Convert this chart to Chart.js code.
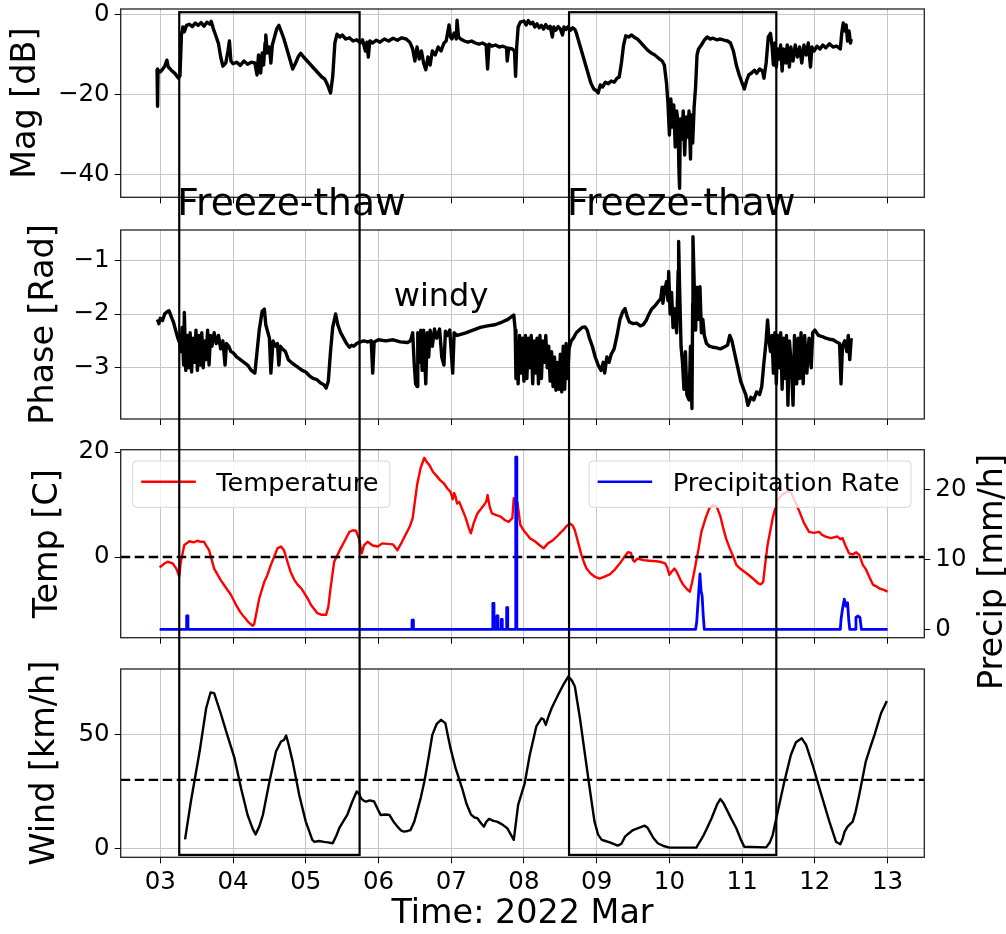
<!DOCTYPE html>
<html>
<head>
<meta charset="utf-8">
<script src="https://cdn.jsdelivr.net/npm/chart.js@4.4.1/dist/chart.umd.min.js"></script>
<style>
  html, body { margin: 0; padding: 0; background: #fff; }
  #wrap { position: relative; width: 1006px; height: 934px; overflow: hidden; }
  #wrap canvas { position: absolute; left: 0; top: 0; }
</style>
</head>
<body>
<div id="wrap">
  <canvas id="magChart" width="1006" height="934"></canvas>
  <canvas id="phaseChart" width="1006" height="934"></canvas>
  <canvas id="tempChart" width="1006" height="934"></canvas>
  <canvas id="windChart" width="1006" height="934"></canvas>
</div>
<script>
// ---- data (time in days of March 2022) ----
const dayTicks = [3, 4, 5, 6, 7, 8, 9, 10, 11, 12, 13];
const dayLabels = ['03', '04', '05', '06', '07', '08', '09', '10', '11', '12', '13'];
const magTicks = [0, -20, -40];
const phaseTicks = [-1, -2, -3];
const tempTicks = [0, 20];
const precipTicks = [0, 10, 20];
const windTicks = [0, 50];

const magDays = [2.955, 2.962, 2.968, 3.00, 3.03, 3.06, 3.09, 3.11, 3.15, 3.20, 3.25, 3.27, 3.29, 3.31, 3.33, 3.36, 3.40, 3.44, 3.48, 3.52, 3.56, 3.60, 3.64, 3.68, 3.70, 3.73, 3.76, 3.80, 3.83, 3.86, 3.90, 3.93, 3.95, 3.97, 4.00, 4.05, 4.10, 4.15, 4.20, 4.25, 4.30, 4.33, 4.35, 4.38, 4.40, 4.42, 4.44, 4.45, 4.47, 4.50, 4.52, 4.54, 4.57, 4.60, 4.63, 4.66, 4.70, 4.74, 4.78, 4.82, 4.86, 4.90, 4.93, 4.97, 5.02, 5.07, 5.12, 5.17, 5.22, 5.26, 5.30, 5.34, 5.37, 5.40, 5.43, 5.47, 5.50, 5.55, 5.60, 5.65, 5.70, 5.75, 5.78, 5.82, 5.84, 5.86, 5.88, 5.92, 5.97, 6.02, 6.08, 6.14, 6.20, 6.26, 6.32, 6.38, 6.43, 6.47, 6.50, 6.53, 6.56, 6.59, 6.62, 6.65, 6.68, 6.71, 6.74, 6.78, 6.82, 6.86, 6.90, 6.93, 6.96, 6.97, 6.99, 7.01, 7.04, 7.07, 7.08, 7.10, 7.13, 7.18, 7.23, 7.28, 7.33, 7.38, 7.43, 7.48, 7.50, 7.52, 7.56, 7.61, 7.66, 7.71, 7.76, 7.77, 7.79, 7.84, 7.87, 7.885, 7.90, 7.92, 7.95, 8.00, 8.03, 8.06, 8.09, 8.12, 8.15, 8.18, 8.21, 8.24, 8.27, 8.30, 8.33, 8.36, 8.39, 8.41, 8.44, 8.47, 8.50, 8.53, 8.55, 8.58, 8.61, 8.64, 8.67, 8.70, 8.72, 8.76, 8.80, 8.84, 8.88, 8.92, 8.96, 9.00, 9.02, 9.05, 9.08, 9.12, 9.16, 9.20, 9.24, 9.28, 9.31, 9.34, 9.37, 9.40, 9.44, 9.48, 9.52, 9.56, 9.60, 9.65, 9.70, 9.75, 9.80, 9.85, 9.90, 9.93, 9.96, 9.98, 10.00, 10.02, 10.04, 10.06, 10.08, 10.10, 10.12, 10.13, 10.14, 10.15, 10.17, 10.19, 10.21, 10.23, 10.25, 10.27, 10.29, 10.30, 10.32, 10.34, 10.36, 10.38, 10.40, 10.44, 10.48, 10.52, 10.56, 10.60, 10.65, 10.70, 10.75, 10.80, 10.84, 10.88, 10.92, 10.96, 11.00, 11.03, 11.06, 11.09, 11.13, 11.17, 11.20, 11.24, 11.28, 11.30, 11.33, 11.36, 11.39, 11.41, 11.43, 11.45, 11.47, 11.49, 11.51, 11.53, 11.55, 11.57, 11.60, 11.62, 11.65, 11.67, 11.70, 11.73, 11.76, 11.79, 11.82, 11.85, 11.88, 11.91, 11.94, 11.96, 11.99, 12.03, 12.07, 12.11, 12.15, 12.20, 12.25, 12.30, 12.35, 12.37, 12.39, 12.41, 12.43, 12.45, 12.47, 12.49, 12.50];
const magValues = [-13.5, -22.8, -13.8, -14.2, -13.6, -12.8, -11.3, -13.0, -13.8, -14.6, -15.8, -15.2, -5.0, -3.0, -4.2, -2.6, -2.3, -2.9, -2.0, -2.6, -1.9, -2.8, -1.8, -2.3, -1.6, -3.5, -5.0, -7.2, -10.5, -12.8, -12.0, -9.0, -6.5, -11.5, -12.2, -11.8, -12.6, -11.5, -12.3, -11.8, -12.0, -15.0, -10.0, -14.5, -9.5, -12.5, -7.0, -5.0, -9.5, -8.0, -12.0, -7.5, -5.5, -3.5, -2.6, -4.0, -6.0, -8.5, -11.0, -13.5, -12.0, -10.3, -9.6, -10.5, -11.5, -12.5, -13.5, -14.5, -15.5, -16.0, -17.5, -19.5, -15.5, -7.0, -4.8, -5.5, -5.0, -6.0, -5.7, -6.5, -6.2, -7.0, -6.2, -9.0, -6.8, -10.5, -6.5, -7.0, -6.3, -6.8, -6.0, -6.5, -5.8, -6.3, -5.7, -6.0, -6.8, -8.5, -11.5, -8.0, -11.0, -9.0, -12.0, -13.7, -10.5, -12.5, -9.0, -10.0, -8.0, -9.0, -7.0, -6.5, -3.5, -2.5, -5.5, -6.0, -4.5, -6.0, -1.3, -5.5, -6.0, -6.5, -6.8, -6.5, -7.0, -7.3, -7.0, -7.5, -13.5, -7.3, -7.8, -7.5, -8.0, -7.8, -8.2, -11.5, -8.3, -8.5, -9.0, -15.3, -8.0, -3.0, -1.8, -1.5, -2.5, -1.4, -2.2, -1.8, -3.0, -2.2, -3.2, -2.6, -3.5, -2.4, -3.3, -2.8, -5.5, -3.0, -3.8, -2.9, -3.5, -5.0, -3.0, -3.6, -2.9, -3.8, -3.2, -3.6, -4.5, -7.0, -9.5, -12.0, -14.5, -17.0, -18.5, -19.0, -19.5, -17.5, -18.0, -16.8, -17.2, -16.5, -16.8, -15.8, -15.5, -12.0, -7.5, -5.2, -5.5, -5.0, -5.6, -6.0, -6.8, -7.8, -8.8, -9.5, -10.0, -10.8, -11.5, -12.5, -17.0, -22.0, -30.0, -21.0, -28.0, -22.5, -33.0, -24.0, -27.0, -38.0, -43.3, -26.0, -31.0, -24.0, -35.0, -25.5, -30.5, -24.0, -36.0, -25.0, -32.0, -23.0, -18.0, -10.0, -8.5, -7.5, -6.3, -5.5, -6.0, -5.8, -6.2, -6.0, -6.3, -6.5, -7.0, -9.0, -12.5, -15.0, -17.0, -18.5, -16.5, -15.0, -14.5, -13.8, -14.6, -13.5, -14.0, -15.8, -12.0, -5.5, -4.6, -7.5, -12.5, -7.0, -13.0, -8.5, -11.0, -7.5, -14.0, -8.5, -12.0, -7.5, -13.0, -8.0, -11.5, -7.5, -10.5, -8.0, -12.0, -7.5, -10.0, -7.0, -13.0, -8.0, -9.0, -7.8, -8.5, -7.5, -8.2, -7.2, -8.0, -7.8, -8.5, -4.5, -2.0, -4.0, -2.5, -6.5, -4.0, -7.0, -6.0];

const phaseDays = [2.96, 2.98, 3.00, 3.03, 3.06, 3.09, 3.12, 3.15, 3.18, 3.21, 3.24, 3.27, 3.28, 3.30, 3.32, 3.33, 3.35, 3.37, 3.39, 3.41, 3.43, 3.45, 3.47, 3.49, 3.51, 3.53, 3.55, 3.57, 3.59, 3.61, 3.63, 3.65, 3.67, 3.69, 3.71, 3.74, 3.77, 3.80, 3.83, 3.86, 3.89, 3.91, 3.94, 3.97, 4.00, 4.05, 4.10, 4.15, 4.20, 4.25, 4.30, 4.33, 4.36, 4.40, 4.43, 4.45, 4.48, 4.50, 4.52, 4.55, 4.58, 4.61, 4.63, 4.65, 4.68, 4.72, 4.76, 4.80, 4.85, 4.90, 4.95, 5.00, 5.05, 5.10, 5.15, 5.20, 5.25, 5.28, 5.31, 5.34, 5.37, 5.41, 5.44, 5.48, 5.52, 5.56, 5.60, 5.63, 5.66, 5.70, 5.75, 5.80, 5.85, 5.90, 5.92, 5.94, 6.00, 6.10, 6.20, 6.30, 6.40, 6.44, 6.47, 6.49, 6.51, 6.53, 6.54, 6.56, 6.58, 6.60, 6.62, 6.65, 6.67, 6.69, 6.71, 6.74, 6.77, 6.80, 6.84, 6.87, 6.90, 6.92, 6.95, 6.98, 7.02, 7.04, 7.08, 7.13, 7.20, 7.30, 7.40, 7.50, 7.60, 7.70, 7.78, 7.83, 7.86, 7.88, 7.89, 7.90, 7.92, 7.94, 7.96, 7.98, 8.00, 8.02, 8.04, 8.06, 8.08, 8.10, 8.12, 8.14, 8.16, 8.18, 8.20, 8.22, 8.24, 8.26, 8.28, 8.30, 8.32, 8.34, 8.36, 8.38, 8.40, 8.42, 8.44, 8.46, 8.48, 8.50, 8.52, 8.54, 8.56, 8.58, 8.60, 8.62, 8.65, 8.68, 8.72, 8.76, 8.80, 8.84, 8.87, 8.90, 8.94, 8.98, 9.02, 9.06, 9.09, 9.11, 9.14, 9.17, 9.20, 9.24, 9.28, 9.32, 9.36, 9.39, 9.42, 9.45, 9.50, 9.55, 9.60, 9.64, 9.68, 9.72, 9.76, 9.80, 9.84, 9.88, 9.90, 9.91, 9.93, 9.96, 9.98, 9.99, 10.01, 10.03, 10.05, 10.07, 10.10, 10.12, 10.127, 10.14, 10.16, 10.18, 10.20, 10.22, 10.24, 10.27, 10.29, 10.31, 10.32, 10.324, 10.34, 10.36, 10.38, 10.40, 10.42, 10.44, 10.46, 10.48, 10.51, 10.55, 10.60, 10.65, 10.70, 10.75, 10.80, 10.83, 10.86, 10.90, 10.94, 10.98, 11.02, 11.05, 11.08, 11.12, 11.16, 11.20, 11.24, 11.27, 11.30, 11.33, 11.35, 11.37, 11.39, 11.41, 11.43, 11.45, 11.47, 11.49, 11.51, 11.53, 11.55, 11.57, 11.59, 11.61, 11.63, 11.65, 11.68, 11.70, 11.72, 11.75, 11.77, 11.79, 11.81, 11.84, 11.86, 11.89, 11.92, 11.95, 11.97, 12.00, 12.05, 12.10, 12.15, 12.20, 12.25, 12.30, 12.34, 12.36, 12.38, 12.41, 12.44, 12.46, 12.48, 12.50];
const phaseValues = [-2.10, -2.18, -2.08, -2.12, -2.00, -1.96, -1.94, -2.05, -2.15, -2.30, -2.45, -2.55, -2.70, -2.25, -2.95, -1.97, -3.05, -2.40, -3.00, -2.35, -3.08, -2.45, -2.90, -2.30, -3.05, -2.40, -2.95, -2.35, -3.00, -2.50, -2.85, -2.30, -2.95, -2.40, -2.60, -2.35, -2.55, -2.40, -2.65, -2.50, -2.95, -2.55, -2.60, -2.70, -2.72, -2.80, -2.85, -2.90, -2.95, -3.05, -3.10, -2.70, -2.30, -1.95, -1.91, -2.20, -2.35, -2.45, -3.10, -2.50, -2.60, -2.55, -2.95, -2.60, -2.65, -2.70, -2.85, -2.90, -2.95, -3.00, -3.05, -3.08, -3.15, -3.20, -3.22, -3.28, -3.32, -3.38, -3.25, -2.70, -2.25, -2.00, -2.20, -2.35, -2.45, -2.55, -2.62, -2.58, -2.60, -2.55, -2.52, -2.50, -2.52, -2.50, -3.10, -2.52, -2.48, -2.50, -2.48, -2.52, -2.53, -2.50, -2.35, -2.90, -3.30, -3.35, -2.35, -2.90, -2.30, -3.05, -2.30, -3.30, -2.35, -2.80, -2.30, -2.60, -2.28, -2.45, -2.28, -2.80, -2.95, -2.32, -2.40, -2.30, -3.10, -2.35, -2.40, -2.38, -2.35, -2.30, -2.25, -2.22, -2.20, -2.15, -2.10, -2.05, -2.02, -2.30, -3.20, -2.50, -3.30, -2.40, -3.10, -2.45, -3.25, -2.40, -3.20, -2.45, -3.00, -2.40, -3.30, -2.50, -3.10, -2.45, -3.30, -2.40, -3.20, -2.50, -2.90, -2.40, -3.00, -2.60, -3.25, -2.70, -3.35, -2.80, -3.42, -2.90, -3.40, -2.75, -3.45, -2.60, -3.40, -2.55, -3.20, -2.65, -2.50, -2.45, -2.35, -2.30, -2.25, -2.24, -2.30, -2.45, -2.60, -2.80, -2.95, -3.05, -2.90, -3.10, -2.80, -2.90, -2.75, -2.65, -2.40, -2.10, -1.95, -1.90, -2.05, -2.15, -2.18, -2.17, -2.22, -2.20, -2.12, -2.00, -1.90, -1.85, -1.78, -1.72, -1.50, -1.80, -1.60, -1.40, -1.75, -1.21, -2.00, -1.60, -2.25, -1.90, -2.35, -1.20, -0.65, -1.50, -2.60, -2.90, -3.40, -2.70, -3.50, -3.60, -2.60, -3.76, -1.80, -0.56, -1.40, -2.30, -1.50, -2.10, -1.49, -2.35, -2.10, -2.40, -2.55, -2.60, -2.62, -2.63, -2.65, -2.62, -2.58, -2.40, -2.50, -2.75, -3.00, -3.25, -3.40, -3.50, -3.70, -3.55, -3.60, -3.45, -3.50, -3.35, -2.90, -2.50, -2.11, -2.50, -2.70, -2.40, -3.10, -2.35, -3.30, -2.40, -3.00, -2.35, -3.40, -2.45, -3.20, -2.40, -3.70, -2.50, -3.00, -3.70, -2.40, -3.30, -2.45, -3.20, -2.35, -3.30, -2.40, -3.10, -2.45, -3.00, -2.35, -2.30, -2.40, -2.42, -2.45, -2.47, -2.48, -2.52, -2.55, -3.30, -2.60, -2.50, -2.70, -2.40, -2.85, -2.45];

const tempDays = [2.99, 3.05, 3.10, 3.17, 3.22, 3.26, 3.28, 3.33, 3.40, 3.46, 3.51, 3.56, 3.60, 3.67, 3.74, 3.83, 3.90, 3.97, 4.04, 4.10, 4.15, 4.21, 4.27, 4.29, 4.36, 4.43, 4.47, 4.52, 4.57, 4.61, 4.66, 4.70, 4.75, 4.79, 4.84, 4.89, 4.94, 4.98, 5.03, 5.07, 5.12, 5.16, 5.22, 5.28, 5.31, 5.34, 5.39, 5.44, 5.48, 5.54, 5.60, 5.65, 5.69, 5.73, 5.77, 5.80, 5.85, 5.92, 5.99, 6.05, 6.12, 6.20, 6.26, 6.32, 6.37, 6.43, 6.47, 6.53, 6.58, 6.63, 6.67, 6.70, 6.75, 6.79, 6.85, 6.90, 6.95, 6.99, 7.02, 7.04, 7.06, 7.08, 7.11, 7.16, 7.20, 7.24, 7.27, 7.31, 7.36, 7.41, 7.45, 7.48, 7.50, 7.53, 7.56, 7.62, 7.68, 7.74, 7.79, 7.84, 7.86, 7.89, 7.91, 7.95, 8.00, 8.08, 8.15, 8.22, 8.27, 8.33, 8.40, 8.46, 8.50, 8.54, 8.58, 8.63, 8.67, 8.70, 8.75, 8.79, 8.83, 8.86, 8.92, 8.98, 9.04, 9.10, 9.18, 9.25, 9.32, 9.38, 9.43, 9.47, 9.50, 9.52, 9.56, 9.64, 9.72, 9.82, 9.90, 9.94, 9.97, 10.00, 10.03, 10.07, 10.10, 10.15, 10.19, 10.24, 10.28, 10.31, 10.35, 10.40, 10.44, 10.50, 10.55, 10.60, 10.65, 10.70, 10.74, 10.78, 10.83, 10.88, 10.92, 10.98, 11.06, 11.14, 11.22, 11.26, 11.29, 11.32, 11.35, 11.39, 11.42, 11.46, 11.49, 11.55, 11.61, 11.65, 11.68, 11.73, 11.79, 11.85, 11.92, 11.99, 12.06, 12.10, 12.15, 12.22, 12.31, 12.35, 12.38, 12.42, 12.47, 12.52, 12.57, 12.61, 12.66, 12.70, 12.75, 12.80, 12.85, 12.89, 12.94, 13.00];
const tempValues = [-2.0, -1.3, -0.9, -1.2, -2.2, -3.75, -1.0, 2.3, 3.0, 2.8, 3.1, 2.9, 2.9, 1.3, -2.2, -4.4, -5.8, -7.2, -9.1, -10.5, -11.4, -12.4, -13.1, -12.8, -7.9, -4.7, -3.5, -1.5, 0.2, 1.65, 2.0, 1.3, -1.0, -2.8, -4.3, -5.3, -6.0, -6.9, -8.0, -9.1, -10.0, -10.7, -11.0, -11.0, -9.5, -6.0, -0.9, 0.5, 1.65, 3.2, 4.8, 5.1, 5.0, 3.6, 0.7, 2.2, 2.9, 2.2, 2.0, 2.6, 2.5, 2.4, 1.3, 2.8, 4.2, 5.8, 7.4, 13.7, 17.0, 18.9, 18.0, 17.5, 16.2, 15.6, 14.6, 14.0, 13.0, 12.4, 11.0, 12.2, 11.5, 10.2, 10.5, 8.8, 7.4, 5.6, 4.5, 6.5, 8.3, 9.2, 9.9, 10.5, 11.8, 9.5, 8.3, 8.0, 7.7, 7.0, 6.7, 7.4, 11.2, 10.0, 10.5, 6.1, 5.0, 3.6, 3.0, 2.2, 1.65, 2.6, 3.2, 4.0, 4.6, 5.1, 5.8, 6.4, 6.0, 5.1, 2.5, 0.4, -1.2, -2.2, -3.2, -3.8, -4.1, -3.8, -3.3, -2.4, -1.2, 0.0, 0.9, 0.8, -0.6, -0.9, -0.3, -0.6, -0.7, -0.8, -1.0, -1.2, -2.0, -3.4, -2.8, -2.2, -2.8, -4.3, -5.3, -6.1, -6.6, -5.0, -2.2, 1.5, 4.8, 7.5, 9.3, 9.9, 9.6, 7.8, 5.5, 3.5, 1.65, 0.0, -1.5, -2.3, -3.1, -4.0, -5.0, -5.2, -4.7, -1.0, 2.3, 5.2, 7.4, 9.5, 10.9, 11.8, 12.4, 12.6, 12.1, 10.5, 8.6, 6.5, 4.8, 4.6, 4.8, 4.2, 3.9, 3.6, 3.9, 3.4, 3.6, 2.2, 0.7, 0.5, 0.9, 0.4, -1.5, -2.3, -3.8, -5.3, -5.6, -6.0, -6.2, -6.6];

const precipDays = [2.99, 3.36, 3.362, 3.378, 3.38, 6.46, 6.462, 6.478, 6.48, 7.57, 7.572, 7.585, 7.588, 7.625, 7.627, 7.64, 7.642, 7.685, 7.687, 7.70, 7.702, 7.76, 7.762, 7.775, 7.777, 7.885, 7.887, 7.90, 7.902, 10.36, 10.375, 10.40, 10.42, 10.435, 10.45, 10.465, 10.48, 12.35, 12.36, 12.38, 12.405, 12.428, 12.45, 12.465, 12.48, 12.56, 12.565, 12.59, 12.62, 12.64, 13.00];
const precipValues = [0, 0, 1.9, 1.9, 0, 0, 1.3, 1.3, 0, 0, 3.7, 3.7, 0, 0, 1.9, 1.9, 0, 0, 1.4, 1.4, 0, 0, 3.1, 3.1, 0, 0, 24.6, 24.6, 0, 0, 1.0, 4.8, 7.9, 5.5, 4.8, 2.0, 0, 0, 1.4, 2.9, 4.3, 3.3, 3.8, 1.5, 0, 0, 1.7, 1.9, 1.7, 0, 0];

const windDays = [3.34, 3.42, 3.54, 3.63, 3.69, 3.74, 3.83, 3.92, 4.02, 4.11, 4.20, 4.27, 4.31, 4.36, 4.41, 4.50, 4.59, 4.66, 4.70, 4.73, 4.76, 4.82, 4.91, 5.00, 5.09, 5.12, 5.18, 5.25, 5.30, 5.37, 5.42, 5.46, 5.52, 5.57, 5.64, 5.70, 5.73, 5.76, 5.80, 5.83, 5.88, 5.94, 6.00, 6.03, 6.10, 6.15, 6.20, 6.26, 6.31, 6.35, 6.40, 6.44, 6.49, 6.53, 6.58, 6.63, 6.69, 6.74, 6.80, 6.86, 6.92, 6.95, 6.99, 7.06, 7.15, 7.21, 7.27, 7.32, 7.36, 7.41, 7.45, 7.48, 7.52, 7.58, 7.63, 7.70, 7.77, 7.82, 7.86, 7.92, 8.01, 8.08, 8.17, 8.24, 8.27, 8.30, 8.34, 8.38, 8.47, 8.54, 8.61, 8.66, 8.70, 8.77, 8.84, 8.91, 8.97, 9.02, 9.07, 9.12, 9.18, 9.24, 9.29, 9.34, 9.39, 9.44, 9.50, 9.58, 9.66, 9.70, 9.73, 9.78, 9.84, 9.92, 10.00, 10.37, 10.46, 10.52, 10.58, 10.66, 10.70, 10.74, 10.78, 10.85, 10.92, 10.98, 11.03, 11.33, 11.38, 11.42, 11.49, 11.58, 11.67, 11.74, 11.82, 11.88, 11.97, 12.09, 12.20, 12.29, 12.35, 12.38, 12.41, 12.45, 12.52, 12.56, 12.61, 12.70, 12.76, 12.82, 12.91, 12.99];
const windValues = [3.9, 20.5, 42.4, 61.4, 68.3, 68.0, 59.2, 49.7, 39.5, 26.3, 14.6, 8.5, 6.1, 9.5, 14.6, 29.2, 42.4, 46.8, 47.5, 49.4, 46.0, 38.0, 23.4, 11.7, 3.7, 2.8, 3.2, 2.8, 2.6, 2.2, 5.5, 8.8, 12.0, 14.6, 20.5, 24.9, 24.0, 21.9, 20.8, 20.5, 21.0, 20.5, 16.5, 14.6, 14.8, 14.6, 12.0, 9.5, 7.8, 7.3, 7.6, 8.0, 11.5, 16.1, 22.0, 29.2, 40.0, 49.7, 54.5, 56.3, 54.8, 50.0, 43.9, 35.1, 26.3, 19.5, 14.9, 13.5, 13.2, 11.0, 9.5, 11.5, 12.9, 12.0, 11.7, 10.5, 8.8, 6.0, 3.7, 19.0, 28.5, 40.9, 53.4, 57.0, 56.5, 54.1, 58.0, 61.4, 67.3, 71.6, 75.3, 73.5, 70.9, 57.0, 40.9, 24.9, 11.7, 6.0, 3.7, 3.2, 2.6, 1.8, 1.2, 2.0, 5.1, 6.5, 8.0, 9.0, 9.9, 9.0, 7.3, 4.5, 2.2, 1.0, 0.3, 0.3, 5.1, 9.0, 13.2, 19.5, 21.6, 20.0, 17.5, 13.0, 8.8, 4.0, 0.7, 0.4, 2.5, 5.8, 16.1, 29.2, 40.9, 46.5, 48.2, 45.3, 36.5, 23.4, 11.7, 2.9, 1.8, 4.0, 7.3, 9.5, 11.7, 16.0, 23.4, 38.0, 44.0, 49.7, 59.2, 64.6];

const tempRef = 0;      // dashed freezing line
const windRef = 30;     // dashed wind threshold
const freezeThawStart = [3.26, 8.62];
const freezeThawEnd = [5.74, 11.47];
const freezeThawLabel = 'Freeze-thaw';
const windyLabel = 'windy';
const windyAt = [6.21, -1.85];

// ---- layout ----
const FONT = '"DejaVu Sans", sans-serif';
const PAGE_W = 1006, PAGE_H = 934;
const AREA_LEFT = 120.7, AREA_RIGHT = 924.3;
const X_MIN = 2.455, X_MAX = 13.505;
const GRID = '#c6c6c6';
const TICK_FONT = { family: FONT, size: 24.5 };
const LABEL_FONT = { family: FONT, size: 33.4 };

Chart.defaults.font.family = FONT;
Chart.defaults.color = '#000';

const charts = {};

function toXY(days, vals) {
	return days.map((d, i) => ({ x: d, y: vals[i] }));
}

function minus(v) {
	return v < 0 ? '\u2212' + Math.abs(v) : String(v);
}

function xAxis(showLabels, height) {
	return {
		type: 'linear', min: X_MIN, max: X_MAX,
		afterBuildTicks: s => { s.ticks = dayTicks.map(v => ({ value: v })); },
		afterFit: s => { s.height = height; s.paddingLeft = 0; s.paddingRight = 0; },
		grid: { color: GRID, lineWidth: 1, tickColor: '#000', tickLength: 6 },
		border: { display: false },
		ticks: { display: showLabels, font: TICK_FONT, padding: 5, maxRotation: 0, autoSkip: false, callback: (v, i) => dayLabels[i] },
		title: { display: showLabels, text: 'Time: 2022 Mar', font: LABEL_FONT, padding: 0 },
	};
}

function yAxis(min, max, ticks, width, title, gridOnArea, position) {
	return {
		type: 'linear', min: min, max: max, position: position || 'left',
		afterBuildTicks: s => { s.ticks = ticks.map(v => ({ value: v })); },
		afterFit: s => { s.width = width; s.paddingTop = 0; s.paddingBottom = 0; },
		grid: { color: GRID, lineWidth: 1, drawOnChartArea: gridOnArea, tickColor: '#000', tickLength: 6 },
		border: { display: false },
		ticks: { font: TICK_FONT, padding: 5, callback: v => minus(v) },
		title: { display: !!title, text: title, font: LABEL_FONT, padding: 0 },
	};
}

function baseOptions(p) {
	return {
		responsive: false,
		animation: false,
		devicePixelRatio: 1,
		events: [],
		layout: {
			padding: {
				top: p.top,
				bottom: PAGE_H - p.bottom - p.xHeight,
				left: p.titleLeft,
				right: p.rightWidth ? 0 : PAGE_W - AREA_RIGHT,
			}
		},
		plugins: { legend: { display: false }, tooltip: { enabled: false } },
		elements: { point: { radius: 0 }, line: { tension: 0, borderJoinStyle: 'round' } },
	};
}

function refLine(value, axisId) {
	return {
		data: [{ x: X_MIN, y: value }, { x: X_MAX, y: value }],
		yAxisID: axisId || 'y',
		borderColor: '#000', borderWidth: 2.4, borderDash: [9.5, 4.5],
	};
}

// axes frame (all four spines)
const framePlugin = {
	id: 'frame',
	afterDatasetsDraw(chart) {
		const a = chart.chartArea, ctx = chart.ctx;
		ctx.save();
		ctx.strokeStyle = '#222';
		ctx.lineWidth = 1.3;
		ctx.strokeRect(a.left, a.top, a.right - a.left, a.bottom - a.top);
		ctx.restore();
	}
};

function drawLegendBox(ctx, x, y, label, color, alignRight) {
	ctx.font = '25.6px ' + FONT;
	const w = 8.5 + 54.6 + 20.5 + ctx.measureText(label).width + 11.5;
	const left = alignRight ? x - w : x;
	ctx.beginPath();
	ctx.roundRect(left, y, w, 46.3, 4);
	ctx.fillStyle = 'rgba(255,255,255,0.8)';
	ctx.fill();
	ctx.strokeStyle = '#d6d6d6';
	ctx.lineWidth = 1;
	ctx.stroke();
	ctx.beginPath();
	ctx.moveTo(left + 8.5, y + 20.7);
	ctx.lineTo(left + 8.5 + 54.6, y + 20.7);
	ctx.strokeStyle = color;
	ctx.lineWidth = 2.5;
	ctx.stroke();
	ctx.fillStyle = '#000';
	ctx.textAlign = 'left';
	ctx.textBaseline = 'alphabetic';
	ctx.fillText(label, left + 8.5 + 54.6 + 20.5, y + 30);
}

const tempExtrasPlugin = {
	id: 'tempExtras',
	afterDraw(chart) {
		const a = chart.chartArea, ctx = chart.ctx;
		const ds = chart.data.datasets;
		ctx.save();
		drawLegendBox(ctx, a.left + 12, a.top + 11.3, ds[2].label, ds[2].borderColor, false);
		drawLegendBox(ctx, a.right - 13.3, a.top + 11.3, ds[0].label, ds[0].borderColor, true);
		// right axis title, reads bottom to top
		ctx.translate(a.right + 77.3, 572);
		ctx.rotate(-Math.PI / 2);
		ctx.font = '33.4px ' + FONT;
		ctx.textAlign = 'center';
		ctx.textBaseline = 'alphabetic';
		ctx.fillText('Precip [mm/h]', 0, 0);
		ctx.restore();
	}
};

const annotationPlugin = {
	id: 'annotations',
	afterDraw(chart) {
		const ctx = chart.ctx;
		const xs = chart.scales.x;
		const top = charts.mag.scales.y.getPixelForValue(0.7);
		const bottom = chart.scales.y.getPixelForValue(-2.9);
		ctx.save();
		ctx.strokeStyle = '#000';
		ctx.lineWidth = 2.2;
		ctx.font = '37.6px ' + FONT;
		ctx.fillStyle = '#000';
		ctx.textBaseline = 'alphabetic';
		ctx.textAlign = 'left';
		freezeThawStart.forEach((d0, i) => {
			const x0 = xs.getPixelForValue(d0);
			const x1 = xs.getPixelForValue(freezeThawEnd[i]);
			ctx.strokeRect(x0, top, x1 - x0, bottom - top);
			ctx.fillText(freezeThawLabel, x0 - 2, charts.mag.scales.y.getPixelForValue(-50));
		});
		ctx.font = '32px ' + FONT;
		ctx.fillText(windyLabel, xs.getPixelForValue(windyAt[0]), charts.phase.scales.y.getPixelForValue(windyAt[1]));
		ctx.restore();
	}
};

function renderMagChart() {
	const p = { top: 9, bottom: 197.3, titleLeft: 6, xHeight: 6 };
	const options = baseOptions(p);
	options.scales = {
		x: xAxis(false, p.xHeight),
		y: yAxis(-45.575, 1.5, magTicks, AREA_LEFT - p.titleLeft, 'Mag [dB]', true),
	};
	charts.mag = new Chart(document.getElementById('magChart'), {
		type: 'line',
		data: { datasets: [{ label: 'Mag', data: toXY(magDays, magValues), borderColor: '#000', borderWidth: 3.4 }] },
		options: options,
		plugins: [framePlugin],
	});
}

function renderPhaseChart() {
	const p = { top: 230, bottom: 419, titleLeft: 24, xHeight: 6 };
	const options = baseOptions(p);
	options.scales = {
		x: xAxis(false, p.xHeight),
		y: yAxis(-3.955, -0.436, phaseTicks, AREA_LEFT - p.titleLeft, 'Phase [Rad]', true),
	};
	charts.phase = new Chart(document.getElementById('phaseChart'), {
		type: 'line',
		data: { datasets: [{ label: 'Phase', data: toXY(phaseDays, phaseValues), borderColor: '#000', borderWidth: 3.4 }] },
		options: options,
		plugins: [framePlugin],
	});
}

function renderTempChart() {
	const p = { top: 449.7, bottom: 637.7, titleLeft: 28, xHeight: 6, rightWidth: PAGE_W - AREA_RIGHT };
	const options = baseOptions(p);
	options.scales = {
		x: xAxis(false, p.xHeight),
		y: yAxis(-15.37, 20.44, tempTicks, AREA_LEFT - p.titleLeft, 'Temp [C]', false),
		y2: yAxis(-1.2, 25.66, precipTicks, p.rightWidth, '', false, 'right'),
	};
	charts.temp = new Chart(document.getElementById('tempChart'), {
		type: 'line',
		data: {
			datasets: [
				{ label: 'Precipitation Rate', data: toXY(precipDays, precipValues), yAxisID: 'y2', borderColor: '#0000ff', borderWidth: 2.8 },
				refLine(tempRef),
				{ label: 'Temperature', data: toXY(tempDays, tempValues), borderColor: '#ff0000', borderWidth: 2.4 },
			]
		},
		options: options,
		plugins: [framePlugin, tempExtrasPlugin],
	});
}

function renderWindChart() {
	const p = { top: 669, bottom: 857.3, titleLeft: 25, xHeight: 76.7 };
	const options = baseOptions(p);
	options.scales = {
		x: xAxis(true, p.xHeight),
		y: yAxis(-3.95, 78.6, windTicks, AREA_LEFT - p.titleLeft, 'Wind [km/h]', true),
	};
	charts.wind = new Chart(document.getElementById('windChart'), {
		type: 'line',
		data: {
			datasets: [
				refLine(windRef),
				{ label: 'Wind', data: toXY(windDays, windValues), borderColor: '#000', borderWidth: 2.4 },
			]
		},
		options: options,
		plugins: [framePlugin, annotationPlugin],
	});
}

renderMagChart();
renderPhaseChart();
renderTempChart();
renderWindChart();
</script>
</body>
</html>
